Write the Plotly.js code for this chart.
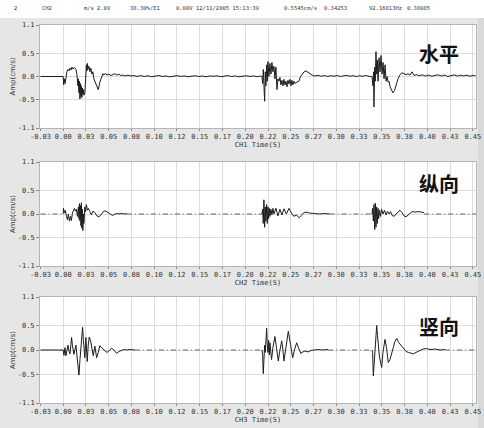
<!DOCTYPE html>
<html>
<head>
<meta charset="utf-8">
<script src="https://cdn.plot.ly/plotly-3.0.1.min.js"></script>
<style>html,body{margin:0;padding:0;background:#e6e6e6;}#chart{width:484px;height:428px;}</style>
</head>
<body>
<div id="chart"></div>
<script>
// ---------- data ----------
const xTickVals = [-0.025,0,0.025,0.05,0.075,0.1,0.125,0.15,0.175,0.2,0.225,0.25,0.275,0.3,0.325,0.35,0.375,0.4,0.425,0.45];
const xTickText = ['-0.03','0.00','0.03','0.05','0.08','0.10','0.12','0.15','0.17','0.20','0.22','0.25','0.27','0.30','0.33','0.35','0.38','0.40','0.43','0.45'];
const yTickVals = [-1.1,-0.5,0,0.5,1.1];
const yTickText = ['-1.1','-0.5','0.0','0.5','1.1'];
const panelLabels = ['水平','纵向','竖向'];
const axisTitles = ['CH1 Time(S)','CH2 Time(S)','CH3 Time(S)'];
const yTitle = 'Amp(cm/s)';
const headerFields = ['2','CH2','m/s','2.0V','38.30%/E1','0.00V','12/11/2005 15:13:39','0.5545cm/s','0.34253','92.16813Hz','0.38085'];

// CH1 (水平)
const ch1Time = [-0.025,-0.015,-0.005,0.0,
 0.0005,0.0013,0.0021,0.003,0.004,0.0052,0.0063,0.0074,0.0085,0.0096,
 0.0107,0.0123,0.014,0.015,0.0162,0.0167,0.0173,0.0178,0.0184,0.0189,
 0.0195,0.02,0.0205,0.0211,0.0216,0.0222,0.0227,0.0238,0.0249,0.0255,
 0.026,0.0266,0.0271,0.0282,0.0293,0.0304,0.0315,0.0326,0.0337,0.036,
 0.0385,0.0403,0.0425,0.0436,0.0447,0.0464,0.048,0.0502,0.0524,0.0546,
 0.0568,0.059,0.0612,0.0634,0.0656,0.0678,0.0711,0.0744,0.0777,0.081,
 0.085,0.089,0.093,0.097,0.101,0.105,0.109,0.113,0.117,0.121,
 0.125,0.129,0.133,0.137,0.141,0.145,0.149,0.153,0.157,0.161,
 0.165,0.169,0.173,0.177,0.181,0.185,0.189,0.193,0.197,0.201,
 0.205,0.209,0.213,0.2165,
 0.2184,0.2191,0.2198,0.2205,0.2213,0.222,0.2227,0.2235,0.2242,0.2249,
 0.226,0.2271,0.2282,0.2293,0.2304,0.2315,0.2326,0.2337,0.2348,0.2359,
 0.237,0.2381,0.2392,0.2403,0.2414,0.2425,0.2436,0.2447,0.2458,0.2469,
 0.248,0.2491,0.2502,0.2513,0.2524,0.2535,0.2546,0.2568,0.259,0.2607,
 0.2624,0.2646,0.2668,0.269,0.2712,0.2734,
 0.2765,0.28,0.2835,0.287,0.2905,0.294,0.2975,0.301,0.3045,0.308,
 0.3115,0.315,0.3185,0.322,0.3255,0.329,0.3325,0.336,
 0.3392,0.3403,0.3409,0.3414,0.3422,0.3429,0.3436,0.3444,0.3451,0.3459,
 0.347,0.3481,0.3492,0.3503,0.3514,0.3525,0.3536,0.3547,0.3558,0.3569,
 0.358,0.3591,0.3607,0.3623,0.364,0.3656,0.3678,0.37,0.3722,0.3744,
 0.3766,0.3788,0.381,0.3833,0.3855,0.3877,
 0.391,0.3945,0.398,0.4015,0.405,0.4085,0.412,0.4155,0.419,0.4225,
 0.426,0.4295,0.433,0.4365,0.44,0.4435,0.447,0.4505,0.453];
const ch1Amp = [0,0,0,0,
 -0.18,-0.05,-0.15,0.05,0.1,0.15,0.12,0.18,0.14,0.2,
 0.16,0.19,0.15,0.05,-0.2,-0.05,-0.35,-0.1,-0.48,-0.15,
 -0.42,-0.2,-0.45,-0.25,-0.38,-0.28,-0.4,-0.35,0.1,0.25,
 0.12,0.28,0.15,0.22,0.1,0.18,0.05,0.1,-0.05,-0.15,
 -0.28,-0.12,0.02,0.06,0.03,0.07,0.03,0.05,0.02,0.04,
 0.06,0.03,0.05,0.02,0.03,0.01,0.03,0.01,0.02,0.0,
 0.02,0.0,0.015,-0.005,0.01,0.02,0.0,0.012,-0.008,0.01,
 0.018,0.002,0.012,-0.005,0.008,0.016,0.0,0.01,-0.006,0.012,
 0.004,0.015,-0.004,0.01,0.018,0.0,0.012,-0.006,0.01,0.016,
 0.002,0.012,-0.004,0.01,
 0.0,-0.15,0.15,-0.3,-0.53,0.1,-0.2,0.25,-0.1,0.32,
 0.0,0.28,0.05,0.3,0.1,0.22,-0.05,0.2,-0.28,-0.05,
 -0.1,-0.02,-0.18,-0.08,-0.2,-0.06,-0.18,-0.1,-0.22,-0.08,
 -0.16,-0.06,-0.2,-0.08,-0.18,-0.1,-0.15,-0.12,-0.1,0.0,
 0.05,0.1,0.12,0.09,0.06,0.03,
 0.01,0.025,0.005,0.02,0.0,0.018,0.006,0.022,0.0,0.015,
 0.025,0.004,0.018,-0.002,0.016,0.006,0.02,0.004,
 0.0,-0.2,0.1,-0.65,0.2,-0.1,0.53,0.05,0.35,-0.1,
 0.4,0.1,0.45,0.05,0.3,-0.05,0.25,-0.1,0.0,-0.12,
 -0.1,-0.22,-0.3,-0.35,-0.3,-0.18,-0.05,0.04,0.08,0.06,
 0.04,0.06,0.03,0.1,0.02,0.04,
 0.02,0.035,0.01,0.03,0.005,0.025,0.035,0.01,0.03,0.0,
 0.025,0.035,0.008,0.03,0.012,0.03,0.005,0.025,0.015];

// CH2 (纵向)
const ch2Time = [0.0,0.0003,0.0013,0.0024,0.0035,0.0046,0.0057,0.0068,0.0079,0.009,
 0.0101,0.0112,0.0123,0.0134,0.0145,0.0156,0.0167,0.0173,0.0178,0.0184,
 0.0189,0.0195,0.02,0.0205,0.0211,0.0216,0.0222,0.0227,0.0238,0.0246,
 0.0255,0.0266,0.0277,0.0293,0.031,0.0326,0.0348,0.037,0.0392,0.0414,
 0.0436,0.0458,0.048,0.0502,0.0524,0.0546,0.0568,0.059,0.0612,0.0634,
 0.0667,0.07,
 null,
 0.2184,0.2191,0.2198,0.2205,0.2213,0.222,0.2227,0.2235,0.2242,0.2249,
 0.2257,0.2264,0.2271,0.2282,0.2293,0.2304,0.2315,0.2337,0.2359,0.2381,
 0.2403,0.2425,0.2452,0.248,0.2507,0.2535,0.2562,0.259,0.2617,0.2639,
 0.2667,0.2706,0.2761,0.2816,0.2871,0.2926,
 null,
 0.3392,0.3399,0.3407,0.3414,0.3422,0.3429,0.3436,0.3444,0.3451,0.3459,
 0.3466,0.3475,0.3486,0.3497,0.3514,0.353,0.3547,0.3563,0.358,0.3596,
 0.3613,0.3635,0.3657,0.3679,0.37,0.3722,0.3744,0.3766,0.3788,0.3811,
 0.3833,0.3866,0.3899,0.3932,0.3965];
const ch2Amp = [0.0,0.12,0.02,0.08,-0.05,-0.12,0.0,-0.15,-0.05,-0.14,
 0.02,0.08,0.12,0.06,0.1,-0.05,0.15,-0.1,0.22,-0.15,
 0.18,-0.25,0.24,-0.3,0.1,-0.35,0.0,-0.2,0.15,0.05,
 0.2,0.08,0.12,0.05,-0.02,0.06,0.03,-0.04,-0.06,-0.02,
 0.04,0.07,0.05,0.02,-0.01,-0.03,0.0,0.01,0.0,0.01,
 0.0,0.005,
 null,
 0.0,0.1,-0.2,0.3,-0.28,0.15,-0.15,0.2,-0.2,0.15,
 -0.1,0.12,-0.05,0.1,-0.02,0.12,0.0,0.12,-0.04,0.1,
 -0.02,0.11,0.0,0.12,0.02,-0.05,-0.02,-0.08,-0.03,0.02,
 0.04,0.02,0.01,0.0,0.01,0.0,
 null,
 0.0,0.12,-0.15,0.2,-0.33,0.23,-0.28,0.15,-0.2,0.12,
 -0.1,0.08,-0.05,0.1,0.0,0.08,-0.02,0.06,0.0,0.05,
 -0.03,-0.05,0.0,0.05,0.08,0.03,-0.04,-0.06,-0.02,0.03,
 0.05,0.04,0.05,0.04,0.03];
const ch2QuietTime = [-0.025,0.0,null,0.07,0.2184,null,0.2926,0.3392,null,0.3965,0.4535];
const ch2QuietAmp  = [0,0,null,0,0,null,0,0,null,0,0];

// CH3 (竖向)
const ch3Time = [-0.025,0.0,
 0.0008,0.0019,0.003,0.004,0.0052,0.0063,0.0074,0.0085,0.0092,0.0101,
 0.0117,0.0128,0.014,0.015,0.0162,0.0173,0.0184,0.0195,0.0205,0.0213,
 0.0222,0.0231,0.0238,0.0249,0.0264,0.0275,0.0286,0.0301,0.0315,0.033,
 0.0348,0.0367,0.0385,0.0403,0.0425,0.0442,0.0458,0.048,0.0502,0.0532,
 0.0557,0.0587,0.0612,0.0642,0.0667,0.07,0.0733,0.0788,
 null,
 0.2184,0.2191,0.2198,0.2205,0.2213,0.222,0.2227,0.2235,0.2242,0.2249,
 0.2257,0.2264,0.2271,0.2282,0.2289,0.2304,0.2326,0.2343,0.2363,0.2381,
 0.2401,0.2414,0.2425,0.2447,0.2473,0.2497,0.2521,0.254,0.2565,0.2585,
 0.261,0.2634,0.2656,0.2689,0.2722,0.2755,0.28,0.2843,0.291,
 null,
 0.3392,0.3399,0.3407,0.3414,0.3425,0.3436,0.3444,0.3453,0.3464,0.3473,
 0.3486,0.3499,0.3513,0.3535,0.3552,0.3571,0.359,0.3607,0.3626,0.3645,
 0.3664,0.3684,0.372,0.3744,0.3766,0.3792,0.3821,0.3846,0.3876,0.392,
 0.3953,0.3993,0.403,0.4085,0.414,0.4195];
const ch3Amp = [0,0,
 -0.11,0.05,-0.12,0.02,0.1,-0.02,-0.08,0.12,0.26,0.1,
 -0.09,0.0,0.1,-0.1,-0.3,-0.52,-0.2,0.1,0.3,0.47,
 0.2,-0.05,-0.16,0.26,-0.24,0.1,0.27,0.19,0.0,-0.12,
 0.08,-0.16,-0.05,0.09,0.04,0.01,-0.03,-0.05,-0.02,0.04,
 0.0,-0.07,-0.03,0.0,0.01,0.0,0.01,0.0,
 null,
 0.0,-0.1,-0.49,-0.1,0.1,-0.05,0.3,0.45,0.1,-0.05,
 0.2,-0.1,0.15,-0.08,-0.2,0.05,0.28,0.05,-0.23,0.0,
 0.19,0.0,-0.23,0.05,0.39,0.12,-0.16,0.0,0.15,0.05,
 -0.07,-0.04,-0.02,-0.04,-0.01,0.0,0.01,0.0,0.01,
 null,
 0.0,-0.05,-0.54,-0.3,0.1,0.35,0.51,0.3,0.0,-0.12,
 -0.25,-0.36,-0.05,0.22,0.05,-0.26,-0.2,-0.1,0.05,0.18,
 0.24,0.16,0.08,0.02,-0.03,-0.05,-0.07,-0.08,-0.05,0.0,
 0.02,0.03,0.01,0.02,0.0,0.01];
const ch3QuietTime = [0.0788,0.2184,null,0.291,0.3392,null,0.4195,0.4535];
const ch3QuietAmp  = [0,0,null,0,0,null,0,0];

// ---------- traces ----------
const lineStyle = {color:'#1c1c1c', width:1};
const quietStyle = {color:'#666666', width:1, dash:'5px,3px,1px,3px'};
const traces = [
  {x:ch1Time, y:ch1Amp, xaxis:'x', yaxis:'y', type:'scatter', mode:'lines', line:lineStyle, connectgaps:false, hoverinfo:'skip'},
  {x:ch2QuietTime, y:ch2QuietAmp, xaxis:'x2', yaxis:'y2', type:'scatter', mode:'lines', line:quietStyle, connectgaps:false, hoverinfo:'skip'},
  {x:ch2Time, y:ch2Amp, xaxis:'x2', yaxis:'y2', type:'scatter', mode:'lines', line:lineStyle, connectgaps:false, hoverinfo:'skip'},
  {x:ch3QuietTime, y:ch3QuietAmp, xaxis:'x3', yaxis:'y3', type:'scatter', mode:'lines', line:quietStyle, connectgaps:false, hoverinfo:'skip'},
  {x:ch3Time, y:ch3Amp, xaxis:'x3', yaxis:'y3', type:'scatter', mode:'lines', line:lineStyle, connectgaps:false, hoverinfo:'skip'}
];

// ---------- layout ----------
const W = 484, H = 428;
const tickFont = {family:'DejaVu Sans Mono, monospace', size:7, color:'#333'};
const px = v => v / W;
const py = v => 1 - v / H;
const xDomain = [px(40), px(476)];
const yDomains = [[py(128), py(25)], [py(266), py(162)], [py(403), py(297)]];

function makeX(i) {
  return {
    domain: xDomain, range: [-0.0255, 0.4535], anchor: i === 0 ? 'y' : 'y' + (i + 1),
    tickmode: 'array', tickvals: xTickVals, ticktext: xTickText,
    ticks: 'outside', ticklen: 2, tickcolor: '#888', tickfont: tickFont,
    showgrid: true, gridcolor: '#dcdcdc', gridwidth: 1, zeroline: false,
    showline: true, linecolor: '#b4b4b4', mirror: true,
    title: {text: axisTitles[i], font: tickFont, standoff: 0}
  };
}
function makeY(i) {
  return {
    domain: yDomains[i], range: [-1.1, 1.1], anchor: i === 0 ? 'x' : 'x' + (i + 1),
    tickmode: 'array', tickvals: yTickVals, ticktext: yTickText,
    ticks: 'outside', ticklen: 3, tickcolor: '#888', tickfont: tickFont,
    showgrid: true, gridcolor: '#dcdcdc', gridwidth: 1, zeroline: false,
    showline: true, linecolor: '#b4b4b4', mirror: true,
    title: {text: yTitle, font: {family:'DejaVu Sans, sans-serif', size:7, color:'#333'}, standoff: 1}
  };
}

const headerX = [12, 40, 82, 95, 128, 174, 194, 282, 322, 367, 405];
const annotations = [];
headerFields.forEach((s, i) => annotations.push({
  text: s, xref: 'paper', yref: 'paper', x: px(headerX[i]), y: py(8),
  xanchor: 'left', yanchor: 'middle', showarrow: false,
  font: {family:'DejaVu Sans Mono, monospace', size:5.5, color:'#333'}
}));
const labelY = [53, 183, 326];
panelLabels.forEach((s, i) => annotations.push({
  text: s, xref: 'paper', yref: 'paper', x: px(439), y: py(labelY[i]),
  xanchor: 'center', yanchor: 'middle', showarrow: false,
  font: {family:'Noto Sans CJK SC', size:20, color:'#111', weight:'bold'}
}));

const layout = {
  width: W, height: H, margin: {l:0, r:0, t:0, b:0},
  paper_bgcolor: '#e6e6e6', plot_bgcolor: '#ffffff', showlegend: false,
  xaxis: makeX(0), xaxis2: makeX(1), xaxis3: makeX(2),
  yaxis: makeY(0), yaxis2: makeY(1), yaxis3: makeY(2),
  annotations: annotations,
  shapes: [
    {type:'rect', xref:'paper', yref:'paper', x0:0, x1:1, y0:py(18), y1:1, fillcolor:'#ffffff', line:{width:0}, layer:'below'},
    {type:'rect', xref:'paper', yref:'paper', x0:px(478), x1:1, y0:0, y1:py(18), fillcolor:'#d9d9d9', line:{width:0}, layer:'below'}
  ]
};

Plotly.newPlot('chart', traces, layout, {staticPlot: true, displayModeBar: false});
</script>
</body>
</html>
